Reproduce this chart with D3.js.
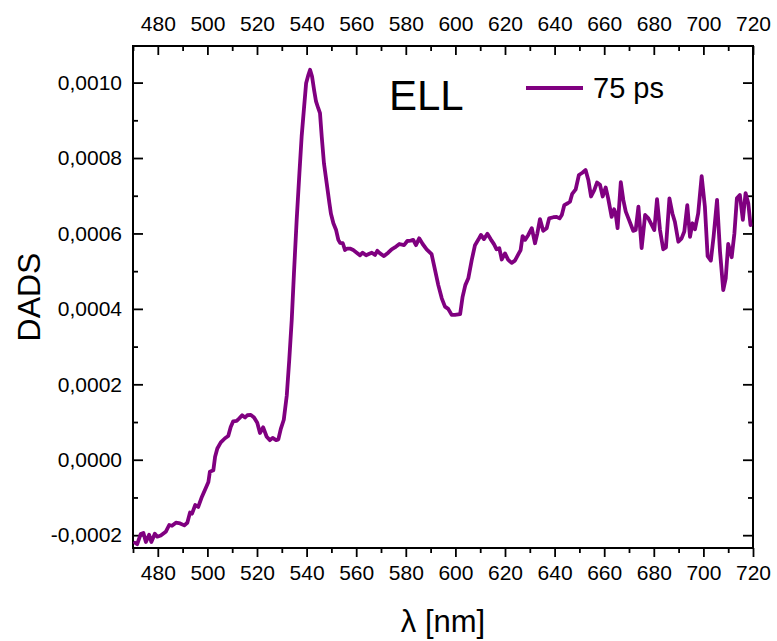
<!DOCTYPE html>
<html>
<head>
<meta charset="utf-8">
<script src="https://cdn.jsdelivr.net/npm/d3@7"></script>
<style>
  html, body { margin: 0; padding: 0; background: #fff; }
  svg { display: block; font-family: "Liberation Sans", Arial, sans-serif; }
</style>
</head>
<body>
<svg id="chart" width="777" height="641"></svg>
<script>
// ---- data ----
const wavelength = [
  470.8,471.7,473.1,474.2,475.2,476.5,477.4,478.8,479.8,481.2,483.2,484.6,485.7,487.3,489.0,490.7,491.9,
  493.0,493.8,495.1,496.3,497.8,499.4,500.4,501.0,502.4,503.1,504.0,505.4,507.1,508.4,509.4,510.4,511.8,
  512.9,514.0,515.2,516.1,517.5,518.8,520.1,521.2,522.5,523.9,525.2,526.3,527.7,528.6,529.6,530.8,532.0,
  533.0,534.0,534.9,536.0,537.1,538.0,539.0,539.8,540.7,541.4,542.2,543.0,543.8,544.7,545.4,546.1,547.0,
  548.1,549.2,549.8,550.8,551.9,552.8,553.5,554.6,555.5,556.4,557.5,558.8,560.2,561.5,562.6,564.0,565.3,
  566.3,567.6,568.5,569.6,571.2,572.9,574.3,575.6,577.4,579.3,580.6,582.0,583.0,584.1,585.4,586.8,588.4,
  590.4,591.8,593.1,594.5,595.8,597.1,598.5,599.8,601.9,602.9,604.0,605.2,606.6,607.9,609.2,610.3,611.5,
  612.9,614.2,615.6,616.6,617.7,618.7,620.0,621.3,622.7,624.0,625.4,626.3,627.1,628.1,629.4,630.8,632.1,
  633.0,634.1,635.4,636.8,637.8,639.5,640.8,642.0,642.9,643.9,645.3,646.2,647.1,648.5,649.8,651.2,652.5,
  653.6,654.7,656.0,657.1,658.3,659.4,660.6,661.6,663.0,664.0,664.6,665.4,666.7,667.7,668.7,670.0,671.7,
  672.7,673.8,675.1,676.5,677.8,679.2,680.2,681.3,682.5,683.8,684.9,686.3,687.5,688.5,689.9,691.2,692.3,
  693.5,694.6,695.6,696.6,697.9,699.3,700.6,701.7,703.0,704.1,705.5,706.7,708.0,709.0,710.0,711.4,712.5,
  713.5,714.7,715.9,717.0,718.1,719.0
];
const dads75ps = [
  -0.000220,-0.000224,-0.000197,-0.000194,-0.000218,-0.000199,-0.000218,-0.000196,-0.000204,-0.000201,
  -0.000191,-0.000173,-0.000175,-0.000167,-0.000169,-0.000174,-0.000167,-0.000140,-0.000143,-0.000120,
  -0.000125,-0.000098,-0.000074,-0.000059,-0.000032,-0.000028,0.000008,0.000030,0.000046,0.000057,
  0.000063,0.000087,0.000102,0.000103,0.000110,0.000118,0.000112,0.000118,0.000119,0.000112,
  0.000098,0.000071,0.000086,0.000061,0.000052,0.000058,0.000052,0.000054,0.000082,0.000106,
  0.000170,0.000264,0.000370,0.000494,0.000636,0.000760,0.000857,0.000936,0.000998,0.001020,
  0.001034,0.001016,0.000981,0.000950,0.000932,0.000919,0.000857,0.000786,0.000733,0.000680,
  0.000653,0.000627,0.000609,0.000583,0.000575,0.000574,0.000556,0.000560,0.000560,0.000556,
  0.000549,0.000542,0.000549,0.000542,0.000546,0.000549,0.000543,0.000554,0.000547,0.000540,
  0.000549,0.000558,0.000563,0.000572,0.000569,0.000580,0.000581,0.000583,0.000569,0.000587,
  0.000572,0.000558,0.000545,0.000503,0.000463,0.000428,0.000406,0.000400,0.000384,0.000384,
  0.000386,0.000432,0.000463,0.000481,0.000530,0.000569,0.000583,0.000596,0.000585,0.000599,
  0.000585,0.000571,0.000558,0.000561,0.000531,0.000547,0.000530,0.000522,0.000528,0.000545,
  0.000556,0.000593,0.000583,0.000596,0.000614,0.000574,0.000599,0.000638,0.000607,0.000614,
  0.000640,0.000643,0.000644,0.000640,0.000649,0.000675,0.000680,0.000684,0.000705,0.000717,
  0.000755,0.000761,0.000768,0.000742,0.000698,0.000715,0.000735,0.000729,0.000698,0.000722,
  0.000693,0.000644,0.000664,0.000653,0.000614,0.000736,0.000689,0.000658,0.000636,0.000607,
  0.000609,0.000671,0.000561,0.000649,0.000640,0.000622,0.000609,0.000691,0.000609,0.000558,
  0.000563,0.000693,0.000653,0.000631,0.000578,0.000587,0.000605,0.000675,0.000591,0.000627,
  0.000611,0.000653,0.000752,0.000671,0.000540,0.000528,0.000591,0.000689,0.000552,0.000450,
  0.000481,0.000572,0.000537,0.000600,0.000693,0.000702,0.000636,0.000707,0.000680,0.000622
];
const xMajorTicks = [480,500,520,540,560,580,600,620,640,660,680,700,720];
const xMinorTicks = [470,490,510,530,550,570,590,610,630,650,670,690,710];
const yMajorTicks = [-0.0002,0.0000,0.0002,0.0004,0.0006,0.0008,0.0010];
const yMinorTicks = [-0.0001,0.0001,0.0003,0.0005,0.0007,0.0009];
const xDomain = [470, 720];
const yDomain = [-0.000234, 0.001097];
const seriesName = "75 ps";
const panelLabel = "ELL";
const xTitle = "\u03bb [nm]";
const yTitle = "DADS";

// ---- layout ----
const svg = d3.select("#chart");
const L = 133, R = 753, T = 46, B = 548;
const color = "#800080";

const x = d3.scaleLinear().domain(xDomain).range([L, R]);
const y = d3.scaleLinear().domain(yDomain).range([B, T]);

const fmtY = v => (v < -1e-12 ? "-" : "") + Math.abs(v).toFixed(4).replace(".", ",");

function styleAxis(g) {
  g.select(".domain").remove();
  g.selectAll(".tick line").attr("stroke", "#000").attr("stroke-width", 1.8);
  g.selectAll("text").attr("fill", "#000").attr("font-size", 21)
    .attr("font-family", "'Liberation Sans', Arial, sans-serif");
}

// bottom axis (outward ticks)
svg.append("g").attr("transform", `translate(0,${B})`)
  .call(d3.axisBottom(x).tickValues(xMajorTicks).tickSize(9).tickPadding(8).tickFormat(d3.format("d")))
  .call(styleAxis);
svg.append("g").attr("transform", `translate(0,${B})`)
  .call(d3.axisBottom(x).tickValues(xMinorTicks).tickSize(5).tickFormat(""))
  .call(styleAxis);

// top axis (inward ticks, labels above)
svg.append("g").attr("transform", `translate(0,${T})`)
  .call(d3.axisTop(x).tickValues(xMajorTicks).tickSize(-9).tickPadding(15).tickFormat(d3.format("d")))
  .call(styleAxis);
svg.append("g").attr("transform", `translate(0,${T})`)
  .call(d3.axisTop(x).tickValues(xMinorTicks).tickSize(-5).tickFormat(""))
  .call(styleAxis);

// left axis (inward ticks)
svg.append("g").attr("transform", `translate(${L},0)`)
  .call(d3.axisLeft(y).tickValues(yMajorTicks).tickSize(-10).tickPadding(11).tickFormat(fmtY))
  .call(styleAxis);
svg.append("g").attr("transform", `translate(${L},0)`)
  .call(d3.axisLeft(y).tickValues(yMinorTicks).tickSize(-5).tickFormat(""))
  .call(styleAxis);

// right axis (inward ticks, no labels)
svg.append("g").attr("transform", `translate(${R},0)`)
  .call(d3.axisRight(y).tickValues(yMajorTicks).tickSize(-10).tickFormat(""))
  .call(styleAxis);
svg.append("g").attr("transform", `translate(${R},0)`)
  .call(d3.axisRight(y).tickValues(yMinorTicks).tickSize(-5).tickFormat(""))
  .call(styleAxis);

// frame
svg.append("rect").attr("x", L).attr("y", T).attr("width", R - L).attr("height", B - T)
  .attr("fill", "none").attr("stroke", "#000").attr("stroke-width", 2);

// data line
const data = wavelength.map((w, i) => ({ w, v: dads75ps[i] }));
svg.append("path").datum(data)
  .attr("fill", "none").attr("stroke", color).attr("stroke-width", 3.8)
  .attr("stroke-linejoin", "round").attr("stroke-linecap", "round")
  .attr("d", d3.line().x(d => x(d.w)).y(d => y(d.v)));

// panel label
svg.append("text").attr("x", 389).attr("y", 110).attr("font-size", 42).attr("fill", "#000")
  .text(panelLabel);

// legend
svg.append("line").attr("x1", 526).attr("x2", 583).attr("y1", 88).attr("y2", 88)
  .attr("stroke", color).attr("stroke-width", 3.8);
svg.append("text").attr("x", 593).attr("y", 98).attr("font-size", 29).attr("fill", "#000")
  .text(seriesName);

// axis titles
svg.append("text").attr("x", (L + R) / 2).attr("y", 632).attr("text-anchor", "middle")
  .attr("font-size", 31).attr("fill", "#000").text(xTitle);
svg.append("text").attr("transform", `translate(40,${(T + B) / 2}) rotate(-90)`)
  .attr("text-anchor", "middle").attr("font-size", 32).attr("fill", "#000").text(yTitle);
</script>
</body>
</html>
